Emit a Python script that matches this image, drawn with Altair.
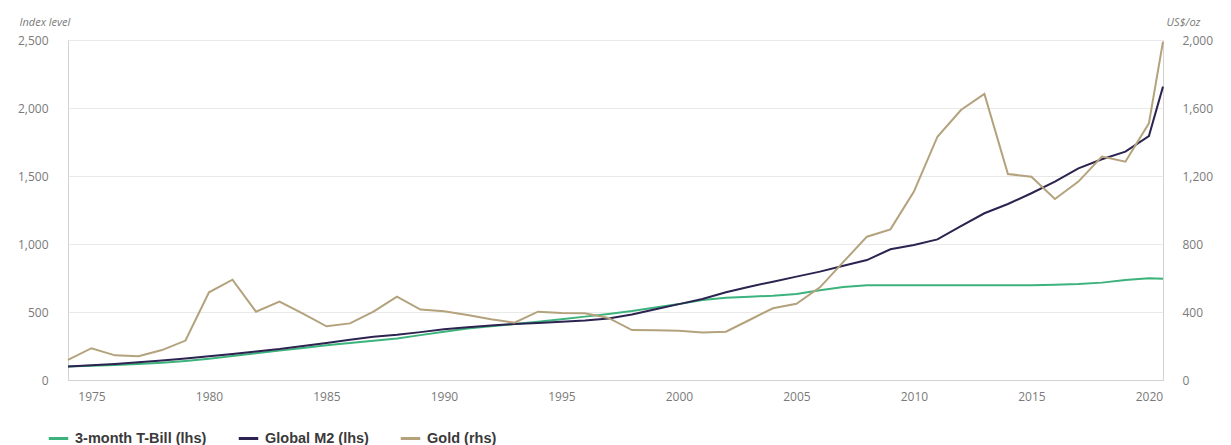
import altair as alt
import pandas as pd

years = list(range(1974, 2021)) + [2020.6]

tbill = [100, 105, 111, 118, 127, 140, 156, 176, 197, 216,
         236, 255, 272, 288, 305, 330, 355, 378, 396, 412,
         428, 446, 466, 485, 507, 533, 558, 588, 605, 612,
         620, 632, 660, 683, 696, 696, 696, 696, 697, 697,
         697, 697, 700, 705, 716, 736, 748, 745]

m2 = [100, 108, 118, 130, 143, 158, 175, 192, 210, 228,
      250, 272, 296, 318, 332, 352, 373, 387, 400, 412,
      420, 428, 437, 452, 482, 520, 558, 596, 645, 686,
      723, 760, 797, 840, 882, 961, 993, 1034, 1132, 1226,
      1294, 1373, 1458, 1556, 1623, 1679, 1794, 2157]

gold = [118, 187, 145, 140, 176, 232, 516, 590, 402, 461,
        390, 316, 333, 402, 490, 414, 405, 382, 357, 337,
        402, 394, 392, 365, 294, 292, 290, 280, 284, 353,
        422, 448, 545, 695, 843, 886, 1108, 1431, 1588, 1683,
        1212, 1196, 1065, 1167, 1314, 1284, 1510, 1990]

series_names = ["3-month T-Bill (lhs)", "Global M2 (lhs)", "Gold (rhs)"]
series_colors = ["#3cb37c", "#2c2350", "#b3a27c"]
lhs_ticks = [0, 500, 1000, 1500, 2000, 2500]
rhs_ticks = [0, 400, 800, 1200, 1600, 2000]
x_ticks = list(range(1975, 2021, 5))

rows = []
for name, side, vals in [(series_names[0], "lhs", tbill),
                         (series_names[1], "lhs", m2),
                         (series_names[2], "rhs", gold)]:
    for y, v in zip(years, vals):
        rows.append({"year": y, "value": v, "series": name, "side": side})
df = pd.DataFrame(rows)

label_color = "#7a7a7a"
domain_color = "#d2d2d2"

x_enc = alt.X(
    "year:Q",
    scale=alt.Scale(domain=[1974, 2020.6], nice=False, zero=False),
    axis=alt.Axis(values=x_ticks, format="d", title=None, grid=False, ticks=False,
                  domainColor=domain_color, labelColor=label_color, labelFontSize=12,
                  labelFont="Open Sans", labelPadding=11),
)

color_enc = alt.Color(
    "series:N",
    scale=alt.Scale(domain=series_names, range=series_colors),
    legend=alt.Legend(title=None, orient="none", legendX=-21, legendY=387,
                      padding=0, direction="horizontal", symbolType="stroke",
                      symbolStrokeWidth=3, symbolSize=380, columnPadding=25,
                      labelFont="Liberation Sans", labelFontWeight="bold",
                      labelFontSize=14.5, labelColor="#3a3a3a", labelOffset=5),
)

lhs = alt.Chart(df).transform_filter(alt.datum.side == "lhs").mark_line(strokeWidth=2).encode(
    x=x_enc,
    y=alt.Y("value:Q",
            scale=alt.Scale(domain=[0, 2500], nice=False),
            axis=alt.Axis(values=lhs_ticks, format=",.0f", title="Index level", titleAngle=0,
                          titleAlign="left", titleBaseline="middle", titleX=-49, titleY=-18,
                          titleFontStyle="italic", titleFontWeight="normal", titleColor=label_color,
                          titleFontSize=11, titleFont="Open Sans",
                          grid=True, gridColor="#e9e9e9", ticks=False, labelPadding=20,
                          domainColor=domain_color, labelColor=label_color, labelFontSize=12,
                          labelFont="Open Sans")),
    color=color_enc,
    order="year:Q",
)

rhs = alt.Chart(df).transform_filter(alt.datum.side == "rhs").mark_line(strokeWidth=2).encode(
    x=x_enc,
    y=alt.Y("value:Q",
            scale=alt.Scale(domain=[0, 2000], nice=False),
            axis=alt.Axis(values=rhs_ticks, format=",.0f", orient="right", title="US$/oz",
                          titleAngle=0, titleAlign="left", titleBaseline="middle",
                          titleX=3, titleY=-18, titleFontStyle="italic", titleFontWeight="normal",
                          titleColor=label_color, titleFontSize=11, titleFont="Open Sans",
                          grid=False, ticks=False, labelPadding=19, domainColor=domain_color,
                          labelColor=label_color, labelFontSize=12, labelFont="Open Sans")),
    color=color_enc,
    order="year:Q",
)

chart = alt.layer(lhs, rhs).resolve_scale(y="independent").properties(
    width=1095, height=340,
    padding={"left": 60, "top": 32, "right": 60, "bottom": 65},
    autosize=alt.AutoSizeParams(type="none"),
).configure_view(stroke=None)

chart.save("out.html", embed_options={"renderer": "svg", "actions": False})
